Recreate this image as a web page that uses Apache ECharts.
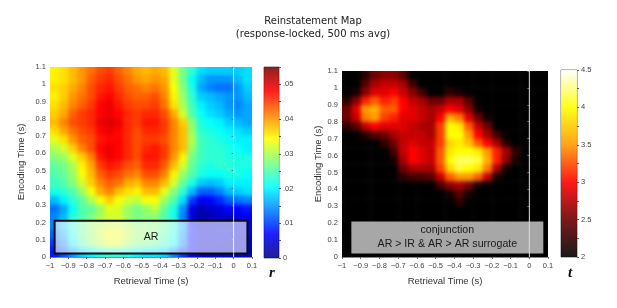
<!DOCTYPE html>
<html><head><meta charset="utf-8">
<style>
html,body{margin:0;padding:0;background:#fff;width:617px;height:308px;overflow:hidden}
.clip{position:absolute;overflow:hidden}
.heat{position:absolute;filter:blur(2.2px)}
#main{position:absolute;left:0;top:0;width:617px;height:308px}
</style>
<script src="https://cdn.jsdelivr.net/npm/echarts@6/dist/echarts.min.js"></script>
</head><body>
<div class="clip" id="clipL"><div class="heat" id="heatL"></div></div>
<div class="clip" id="clipR"><div class="heat" id="heatR"></div></div>
<div id="main"></div>
<script>
// Cell centres of the two maps (retrieval time, encoding time from top to bottom)
const retrievalCells=[-.975,-.925,-.875,-.825,-.775,-.725,-.675,-.625,-.575,-.525,-.475,-.425,-.375,-.325,-.275,-.225,-.175,-.125,-.075,-.025,.025,.075];
const encodingCells=[1.075,1.025,.975,.925,.875,.825,.775,.725,.675,.625,.575,.525,.475,.425,.375,.325,.275,.225,.175,.125,.075,.025];
// r x 1000
const rMap=[
[35,36,38,40,42,44,45,43,41,39,38,39,38,33,27,23,19,18,18,18,18,19],
[35,36,38,40,43,45,46,44,42,40,39,40,39,33,27,21,17,15,15,15,17,19],
[36,37,39,41,44,46,47,45,43,42,41,42,40,34,28,22,16,14,13,13,15,18],
[35,37,40,42,44,47,48,46,44,43,43,44,41,35,29,23,18,17,16,15,15,17],
[36,38,41,43,45,48,49,47,45,44,44,45,42,36,30,24,20,18,17,15,14,16],
[37,39,43,45,46,48,49,48,46,45,46,46,44,39,32,25,21,19,18,16,15,16],
[38,41,44,45,46,49,50,49,46,45,47,47,45,41,37,28,22,21,20,18,17,16],
[36,39,42,44,45,48,49,48,46,44,46,46,45,41,38,29,23,22,21,20,19,18],
[33,36,40,43,44,47,48,48,46,44,45,45,44,41,38,30,24,23,22,21,20,20],
[30,32,37,41,44,48,49,48,46,44,46,47,45,41,38,29,24,23,23,22,21,20],
[28,29,33,37,41,47,49,48,46,44,47,47,45,40,35,27,24,23,23,22,22,22],
[26,27,30,35,39,45,47,46,44,43,46,46,43,38,32,26,23,22,23,23,22,22],
[25,26,29,34,38,43,45,44,42,41,44,44,41,35,29,25,22,21,21,22,22,21],
[24,25,28,32,37,41,43,42,39,38,41,41,38,32,26,22,18,17,18,20,20,20],
[22,23,25,29,34,39,41,38,36,35,38,38,33,28,23,17,12,12,14,17,18,19],
[17,20,23,26,30,34,37,34,32,31,34,34,29,25,19,10,6,7,9,12,13,14],
[13,16,21,25,26,29,33,32,29,27,29,31,26,22,15,5,3,4,5,7,7,8],
[14,17,23,25,27,30,32,32,29,27,28,28,25,22,14,5,2,3,4,4,5,6],
[14,18,23,26,29,31,32,32,30,28,28,28,26,23,16,7,4,4,4,4,5,6],
[12,16,22,26,29,32,34,34,31,29,28,27,25,22,15,7,5,5,5,5,5,5],
[10,14,20,25,28,31,33,33,30,28,27,26,24,21,14,7,5,4,4,4,4,4],
[8,11,15,18,20,22,23,23,22,20,19,19,18,14,10,6,3,3,3,3,3,3]];
// t x 10
const tMap=[
[20,20,22,25,26,26,24,20,20,20,20,20,20,20,20,20,20,20,20,20,20,20],
[20,20,24,27,28,28,27,23,20,20,20,20,20,20,20,20,20,20,20,20,20,20],
[20,21,26,29,29,30,28,26,23,20,20,22,21,20,20,20,20,20,20,20,20,20],
[22,26,31,33,31,32,30,28,27,25,25,27,27,24,20,20,20,20,20,20,20,20],
[25,29,35,36,33,33,30,29,28,27,28,30,29,26,21,20,20,20,20,20,20,20],
[25,28,34,35,32,31,29,29,28,27,30,36,34,29,25,21,20,20,20,20,20,20],
[22,24,28,30,29,29,29,28,27,27,32,40,39,33,28,25,20,20,20,20,20,20],
[20,20,22,24,25,27,28,28,28,27,32,40,40,35,30,27,23,20,20,20,20,20],
[20,20,20,20,22,25,28,29,28,28,32,38,39,37,33,30,27,22,20,20,20,20],
[20,20,20,20,20,23,28,30,29,28,33,39,40,40,39,35,31,27,22,20,20,20],
[20,20,20,20,20,21,27,30,29,28,33,40,42,42,41,36,31,26,21,20,20,20],
[20,20,20,20,20,20,25,27,27,27,32,38,41,40,39,34,27,21,20,20,20,20],
[20,20,20,20,20,20,22,23,23,24,28,33,35,35,33,28,21,20,20,20,20,20],
[20,20,20,20,20,20,20,20,20,20,23,26,27,25,21,20,20,20,20,20,20,20],
[20,20,20,20,20,20,20,20,20,20,20,21,24,21,20,20,20,20,20,20,20,20],
[20,20,20,20,20,20,20,20,20,20,20,20,22,20,20,20,20,20,20,20,20,20],
[20,20,20,20,20,20,20,20,20,20,20,20,20,20,20,20,20,20,20,20,20,20],
[20,20,20,20,20,20,20,20,20,20,20,20,20,20,20,20,20,20,20,20,20,20],
[20,20,20,20,20,20,20,20,20,20,20,20,20,20,20,20,20,20,20,20,20,20],
[20,20,20,20,20,20,20,20,20,20,20,20,20,20,20,20,20,20,20,20,20,20],
[20,20,20,20,20,20,20,20,20,20,20,20,20,20,20,20,20,20,20,20,20,20],
[20,20,20,20,20,20,20,20,20,20,20,20,20,20,20,20,20,20,20,20,20,20]];
const jetColors=['#00007f','#0000ff','#007fff','#00ffff','#7fff7f','#ffff00','#ff7f00','#ff0000','#7f0000'];
const hotColors=['#000000','#6e0000','#ff0000','#ff9a00','#ffff00','#ffffff'];
const arBox=[[-.975,.02],[.075,.21]];
const conjBox=[[-.95,.02],[.075,.21]];
const zeroLine=[[0,0],[0,1.1]];
const rRange=[0,.055], tRange=[2,4.5];

const plotL={l:50,t:67,w:202,h:190}, plotR={l:342,t:71,w:206,h:186};
const barL={l:264,t:67,w:15,h:191}, barR={l:561,t:70,w:16,h:187};

function heat(clipId,heatId,p,m,scale,range,colors){
  const clip=document.getElementById(clipId), el=document.getElementById(heatId);
  const cw=p.w/22, ch=p.h/22;
  Object.assign(clip.style,{left:p.l+'px',top:p.t+'px',width:p.w+'px',height:p.h+'px'});
  Object.assign(el.style,{left:-cw+'px',top:-ch+'px',width:p.w+2*cw+'px',height:p.h+2*ch+'px'});
  const data=[];
  for(let r=-1;r<=22;r++)for(let c=-1;c<=22;c++){
    const rr=Math.min(21,Math.max(0,r)), cc=Math.min(21,Math.max(0,c));
    data.push([c+1,r+1,m[rr][cc]*scale]);
  }
  const cats=Array.from({length:24},(_,i)=>i);
  echarts.init(el,null,{renderer:'canvas'}).setOption({
    animation:false,
    grid:{left:0,right:0,top:0,bottom:0},
    xAxis:{type:'category',data:cats,show:false},
    yAxis:{type:'category',data:cats,show:false,inverse:true},
    visualMap:{show:false,min:range[0],max:range[1],inRange:{color:colors},seriesIndex:0},
    series:[{type:'heatmap',data:data,progressive:0,silent:true}]
  });
}
heat('clipL','heatL',plotL,rMap,.001,rRange,jetColors);
heat('clipR','heatR',plotR,tMap,.1,tRange,hotColors);

const tickFont={fontFamily:'Liberation Sans',fontSize:7.5,color:'#444'};
const nameFont={fontFamily:'Liberation Sans',fontSize:9.5,color:'#333'};
const gridOf=(p)=>({left:p.l,top:p.t,width:p.w,height:p.h,containLabel:false});
const fmt=v=>{const r=Math.round(v*10)/10;return r<0?'\u2212'+(-r):String(r);};
function xAxis(i){return {gridIndex:i,type:'value',min:-1,max:.1,interval:.1,name:'Retrieval Time (s)',nameLocation:'middle',nameGap:19,nameTextStyle:nameFont,
  axisLine:{lineStyle:{color:'#888',width:1}},axisTick:{show:true,length:2,lineStyle:{color:'#666'}},splitLine:{show:false},
  axisLabel:{...tickFont,margin:5,formatter:fmt,hideOverlap:false,showMinLabel:true,showMaxLabel:true}};}
function yAxis(i,gap){return {gridIndex:i,type:'value',min:0,max:1.1,interval:.1,name:'Encoding Time (s)',nameLocation:'middle',nameGap:gap,nameTextStyle:nameFont,
  axisLine:{show:true,lineStyle:{color:'#888',width:1}},axisTick:{show:true,length:2,lineStyle:{color:'#666'}},splitLine:{show:false},
  axisLabel:{...tickFont,margin:4,formatter:fmt,showMinLabel:true,showMaxLabel:true}};}
const grad=(colors)=>new echarts.graphic.LinearGradient(0,1,0,0,colors.map((c,i)=>({offset:i/(colors.length-1),color:c})));
function barAxes(i,range,interval,fm){return {
  x:{gridIndex:i,type:'category',data:[''],show:false},
  y:{gridIndex:i,type:'value',position:'right',min:range[0],max:range[1],interval:interval,
     axisLine:{show:false},splitLine:{show:false},
     axisTick:{show:true,length:2,inside:false,lineStyle:{color:'#555'}},
     minorTick:{show:true,splitNumber:2,length:2,lineStyle:{color:'#555'}},
     axisLabel:{...tickFont,margin:4,formatter:fm,showMinLabel:true,showMaxLabel:true}}
};}
const bL=barAxes(2,rRange,.01,v=>{if(v<1e-9)return '0';if(v>.0505)return v<.0545?'.05':'';return '.0'+Math.round(v*100);});
const bR=barAxes(3,tRange,.5,v=>String(Math.round(v*10)/10));

function overlay(i,box,line,fill,label,lc,bw){
  return {type:'line',xAxisIndex:i,yAxisIndex:i,data:line,symbol:'none',silent:true,z:5,
    lineStyle:{color:lc,width:1},
    markArea:{silent:true,z:3,itemStyle:{color:fill,borderColor:'#0b0b0b',borderWidth:bw},
      label:{show:true,position:'inside',formatter:label,fontFamily:'Liberation Sans',fontSize:10.6,lineHeight:14,color:'#1a1a1a'},
      data:[[{coord:box[0]},{coord:box[1]}]]}};
}
const chart=echarts.init(document.getElementById('main'),null,{renderer:'canvas'});
chart.setOption({
  animation:false,
  backgroundColor:'transparent',
  title:{text:'Reinstatement Map\n(response-locked, 500 ms avg)',left:308,top:10,textAlign:'center',
    textStyle:{fontFamily:'DejaVu Sans',fontSize:10,fontWeight:'normal',color:'#222',lineHeight:13,align:'center'}},
  grid:[gridOf(plotL),gridOf(plotR),
    {...gridOf(barL),show:true,borderColor:'#777',borderWidth:1},
    {...gridOf(barR),show:true,borderColor:'#777',borderWidth:1}],
  xAxis:[xAxis(0),xAxis(1),bL.x,bR.x],
  yAxis:[yAxis(0,24),yAxis(1,19),bL.y,bR.y],
  series:[
    overlay(0,arBox,zeroLine,'rgba(255,255,255,.62)','AR','rgba(255,255,255,.7)',2),
    overlay(1,conjBox,zeroLine,'rgba(172,172,172,.97)','conjunction\nAR > IR & AR > AR surrogate','rgba(255,255,255,.6)',0),
    {type:'bar',xAxisIndex:2,yAxisIndex:2,data:[rRange[1]],barWidth:'100%',silent:true,itemStyle:{color:grad(jetColors),opacity:.88}},
    {type:'bar',xAxisIndex:3,yAxisIndex:3,data:[tRange[1]],barWidth:'100%',silent:true,itemStyle:{color:grad(hotColors),opacity:.9}}
  ],
  graphic:[
    {type:'text',left:269,top:266,style:{text:'r',fontFamily:'Liberation Serif',fontSize:15,fontWeight:'bold',fontStyle:'italic',fill:'#111'}},
    {type:'text',left:568,top:266,style:{text:'t',fontFamily:'Liberation Serif',fontSize:15,fontWeight:'bold',fontStyle:'italic',fill:'#111'}}
  ]
});
</script>
</body></html>
